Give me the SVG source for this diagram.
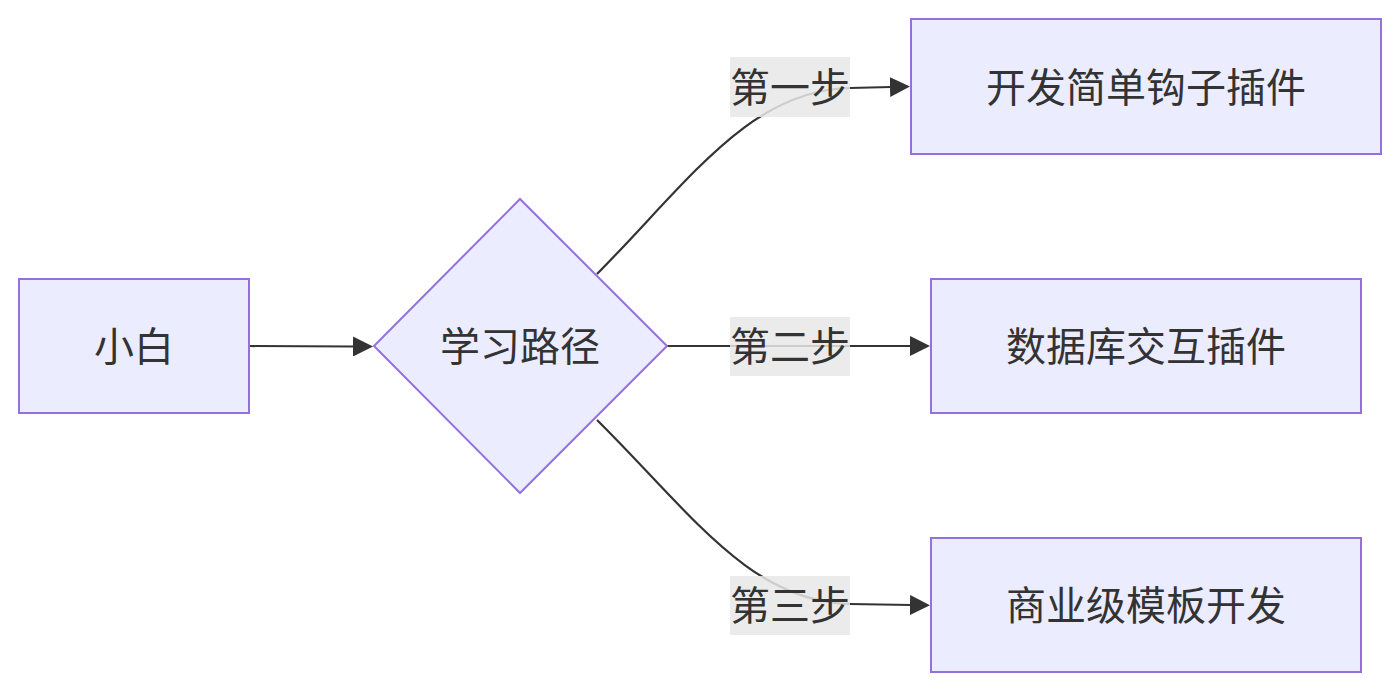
<svg xmlns="http://www.w3.org/2000/svg" width="1400" height="693" viewBox="0 0 1400 693">
<style>
.node{fill:#ECECFF;stroke:#9370DB;stroke-width:2}
.edge{fill:none;stroke:#333333;stroke-width:2.2}
.lbg{fill:#e8e8e8;fill-opacity:0.85}
text{font-family:"Noto Sans CJK SC","Noto Sans",sans-serif;font-size:40px;fill:#333333;text-anchor:middle;dominant-baseline:central}
</style>
<defs>
<marker id="arr" viewBox="0 0 10 10" refX="0.5" refY="5" markerUnits="userSpaceOnUse" markerWidth="20" markerHeight="20" orient="auto">
<path d="M0,0 L10,5 L0,10 z" fill="#333333"/>
</marker>
</defs>
<rect width="1400" height="693" fill="#ffffff"/>
<g id="edges">
<path class="edge" d="M249,346 L354,346.5" marker-end="url(#arr)"/>
<path class="edge" d="M597,274 C690,180 750,90 850,88 L891,87" marker-end="url(#arr)"/>
<path class="edge" d="M667,346 L911,346" marker-end="url(#arr)"/>
<path class="edge" d="M597,420 C690,512 750,602 850,604 L911,605" marker-end="url(#arr)"/>
</g>
<g id="edge-labels">
<g id="label1"><rect class="lbg" x="730" y="57" width="120" height="60"/><text x="790" y="85">第一步</text></g>
<g id="label2"><rect class="lbg" x="730" y="317" width="120" height="59"/><text x="790" y="344">第二步</text></g>
<g id="label3"><rect class="lbg" x="730" y="576" width="120" height="59"/><text x="790" y="603">第三步</text></g>
</g>
<g id="node-A"><rect class="node" x="19" y="279" width="230" height="134"/><text x="134" y="344">小白</text></g>
<g id="node-B"><polygon class="node" points="520,199 667,346 520,493 374,346"/><text x="520" y="344">学习路径</text></g>
<g id="node-C"><rect class="node" x="911" y="19" width="470" height="135"/><text x="1146" y="85">开发简单钩子插件</text></g>
<g id="node-D"><rect class="node" x="931" y="279" width="430" height="134"/><text x="1146" y="344">数据库交互插件</text></g>
<g id="node-E"><rect class="node" x="931" y="538" width="430" height="134"/><text x="1146" y="603">商业级模板开发</text></g>
</svg>
